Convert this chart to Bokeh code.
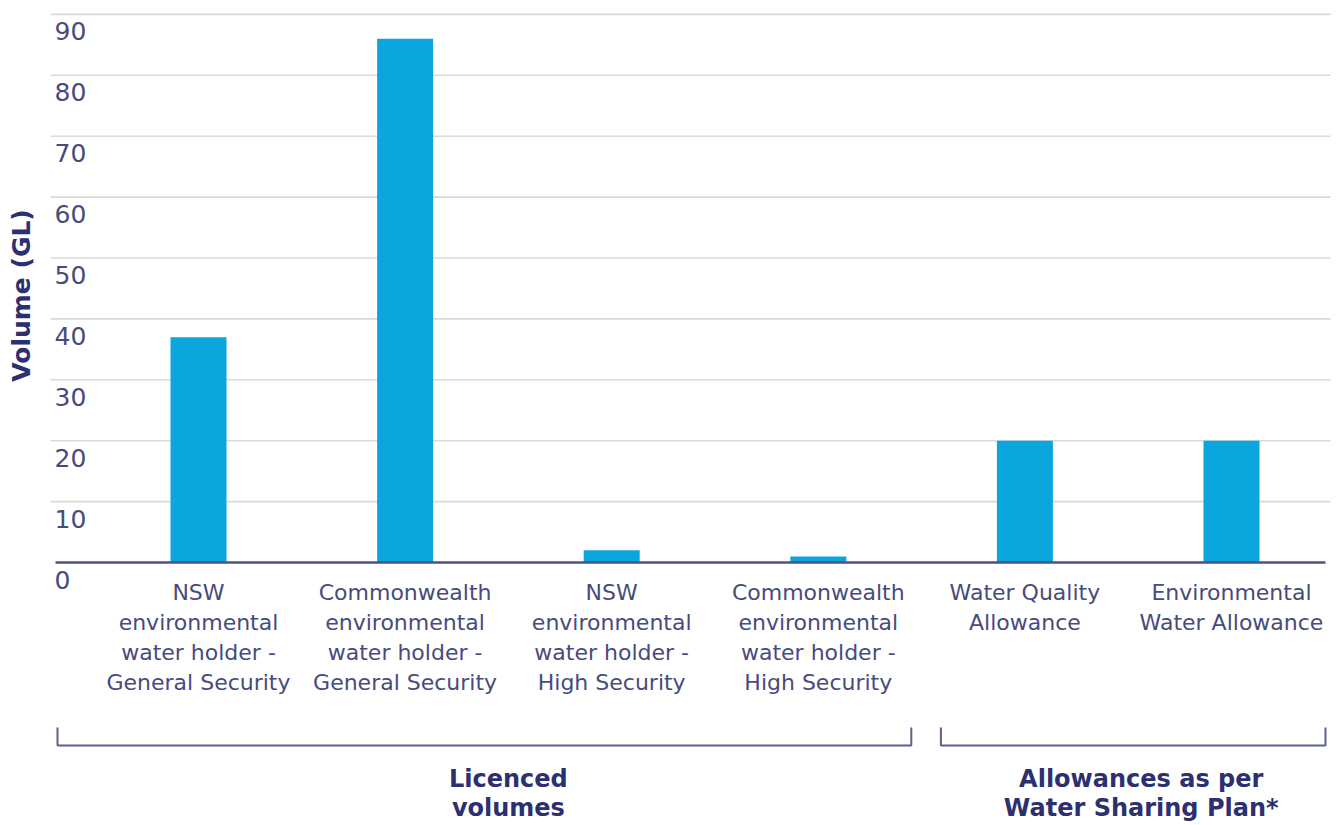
import math

from bokeh.core.properties import value
from bokeh.embed import file_html
from bokeh.models import Range1d
from bokeh.plotting import figure
from bokeh.resources import INLINE

# ---- data -------------------------------------------------------------
categories = [
    "NSW\nenvironmental\nwater holder -\nGeneral Security",
    "Commonwealth\nenvironmental\nwater holder -\nGeneral Security",
    "NSW\nenvironmental\nwater holder -\nHigh Security",
    "Commonwealth\nenvironmental\nwater holder -\nHigh Security",
    "Water Quality\nAllowance",
    "Environmental\nWater Allowance",
]
volumes_gl = [37, 86, 2, 1, 20, 20]

y_ticks = [0, 10, 20, 30, 40, 50, 60, 70, 80, 90]
y_tick_labels = [str(t) for t in y_ticks]
y_title = "Volume (GL)"

group_labels = ["Licenced\nvolumes", "Allowances as per\nWater Sharing Plan*"]
group_first = [0, 4]
group_last = [3, 5]

# ---- layout (pixels) --------------------------------------------------
W, H = 1344, 825
STEP = 206.6          # px between category centres
X0 = 198.0            # px of first category centre
PX_PER_GL = 6.09      # vertical scale
Y0 = 562.0            # px (from top) of the zero line

FONT = "DejaVu Sans"
TEXT_COLOR = "#474b7d"
TITLE_COLOR = "#2c3070"
BAR_COLOR = "#0ba6de"


def dx(px):
    """horizontal pixel distance -> category units"""
    return px / STEP


def dy(px):
    """vertical pixel distance -> GL"""
    return px / PX_PER_GL


def xpx(px):
    return (px - X0) / STEP


def ypx(py):
    return (Y0 - py) / PX_PER_GL


p = figure(
    width=W,
    height=H,
    x_range=Range1d(xpx(0), xpx(W)),
    y_range=Range1d(ypx(H), ypx(0)),
    min_border=0,
    toolbar_location=None,
    output_backend="svg",
)
p.axis.visible = False
p.grid.visible = False
p.outline_line_color = None
p.background_fill_color = "white"
p.border_fill_color = "white"

# horizontal grid lines
grid_left, grid_right = xpx(50), xpx(1330)
grid_vals = [t for t in y_ticks if t != 0]
p.segment(
    x0=[grid_left] * len(grid_vals), x1=[grid_right] * len(grid_vals),
    y0=grid_vals, y1=grid_vals,
    line_color="#dadada", line_width=1.6,
)

# bars
idx = list(range(len(categories)))
p.vbar(x=idx, top=volumes_gl, bottom=0, width=dx(56),
       fill_color=BAR_COLOR, line_color=None)

# zero line
p.segment(x0=[xpx(55)], x1=[xpx(1325)], y0=[0], y1=[0],
          line_color="#4d5183", line_width=2.4)

# y tick labels, sitting just below each grid line
p.text(
    x=[xpx(54)] * len(y_ticks),
    y=[t - dy(17) for t in y_ticks],
    text=y_tick_labels,
    text_font=value(FONT), text_font_size="25px",
    text_color=TEXT_COLOR, text_align="left", text_baseline="middle",
)

# y axis title
p.text(
    x=[xpx(21)], y=[ypx(295)], text=[y_title], angle=math.pi / 2,
    text_font=value(FONT), text_font_size="25px", text_font_style="bold",
    text_color=TITLE_COLOR, text_align="center", text_baseline="middle",
)

# category labels
p.text(
    x=idx, y=[-dy(17)] * len(idx), text=categories,
    text_font=value(FONT), text_font_size="22px",
    text_color=TEXT_COLOR, text_align="center", text_baseline="top",
    text_line_height=1.2,
)

# group brackets
left_pad = [dx(141), dx(84)]
right_pad = [dx(93), dx(94)]
br_y = ypx(745)
br_top = ypx(727)
for f, l, lp, rp in zip(group_first, group_last, left_pad, right_pad):
    xa, xb = f - lp, l + rp
    p.line(x=[xa, xa, xb, xb], y=[br_top, br_y, br_y, br_top],
           line_color="#5d618c", line_width=2)

# group titles
g_x = [(f + l) / 2 for f, l in zip(group_first, group_last)]
g_x[1] = (group_first[1] - left_pad[1] + group_last[1] + right_pad[1]) / 2 + dx(8)
p.text(
    x=g_x, y=[ypx(764)] * 2, text=group_labels,
    text_font=value(FONT), text_font_size="24px", text_font_style="bold",
    text_color=TITLE_COLOR, text_align="center", text_baseline="top",
    text_line_height=1.05,
)

open("out.html", "w").write(file_html(p, INLINE))
